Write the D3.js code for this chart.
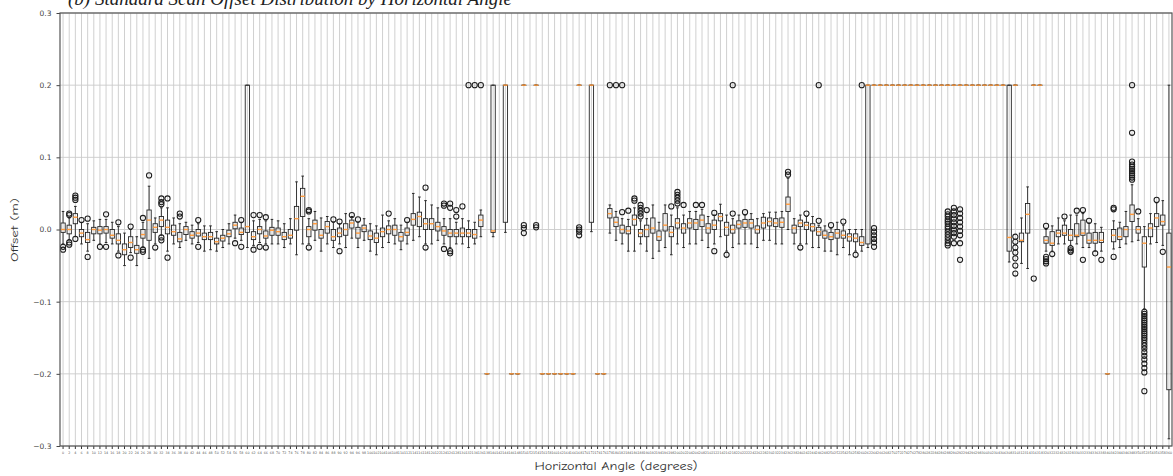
<!DOCTYPE html>
<html>
<head>
<meta charset="utf-8">
<script src="https://cdn.jsdelivr.net/npm/d3@7"></script>
<style>
  body { margin: 0; background: #fff; }
  svg { display: block; }
</style>
</head>
<body>
<svg id="chart" width="1173" height="476"></svg>
<script>
// Horizontal angle categories (degrees)
const angles = d3.range(0, 362, 2);

// Box statistics per angle (null = no observations)
const whiskerLow = [
  -0.02, -0.014, -0.01, -0.02, -0.03, -0.015, -0.02, -0.018, -0.02, -0.03,
  -0.05, -0.032, -0.05, -0.024, -0.04, -0.02, -0.008, -0.03, -0.02, -0.025,
  -0.015, -0.02, -0.018, -0.03, -0.028, -0.03, -0.025, -0.02, -0.012, -0.015,
  -0.025, -0.022, -0.018, -0.02, -0.02, -0.02, -0.025, -0.02, -0.035, -0.02,
  -0.02, -0.015, -0.03, -0.02, -0.025, -0.02, -0.025, -0.012, -0.025, -0.015,
  -0.03, -0.035, -0.025, -0.018, -0.02, -0.028, -0.02, -0.015, -0.01, -0.02,
  -0.02, -0.015, -0.02, -0.025, -0.02, -0.02, -0.025, -0.02, -0.01, -0.2,
  -0.01, null, -0.004, -0.2, -0.2, 0.2, null, 0.2, -0.2, -0.2,
  -0.2, -0.2, -0.2, -0.2, 0.2, null, -0.003, -0.2, -0.2, -0.005,
  -0.015, -0.02, -0.03, -0.03, -0.02, -0.03, -0.04, -0.03, -0.025, -0.035,
  -0.02, -0.025, -0.02, -0.02, -0.015, -0.025, -0.02, -0.01, -0.03, -0.025,
  -0.02, -0.02, -0.02, -0.025, -0.015, -0.015, -0.02, -0.02, 0.0, -0.02,
  -0.02, -0.02, -0.025, -0.025, -0.03, -0.03, -0.035, -0.025, -0.035, -0.03,
  -0.03, -0.025, 0.2, 0.2, 0.2, 0.2, 0.2, 0.2, 0.2, 0.2,
  0.2, 0.2, 0.2, 0.2, 0.2, 0.2, 0.2, 0.2, 0.2, 0.2,
  0.2, 0.2, 0.2, 0.2, -0.045, 0.2, -0.047, -0.054, 0.2, 0.2,
  -0.03, -0.03, -0.02, -0.02, -0.022, -0.02, -0.025, -0.025, -0.03, -0.03,
  -0.2, -0.027, -0.025, -0.02, -0.017, -0.015, -0.11, -0.02, -0.018, -0.022,
  -0.29
];

const q1 = [
  -0.004, -0.006, 0.008, -0.01, -0.018, -0.006, -0.006, -0.005, -0.012, -0.02,
  -0.035, -0.025, -0.033, -0.012, -0.015, -0.004, 0.004, -0.006, -0.008, -0.017,
  -0.007, -0.012, -0.009, -0.014, -0.014, -0.02, -0.016, -0.01, 0.001, -0.007,
  -0.004, -0.014, -0.006, -0.012, -0.008, -0.008, -0.014, -0.012, -0.001, 0.018,
  -0.01, -0.001, -0.012, -0.005, -0.015, -0.01, -0.008, 0.002, -0.012, -0.003,
  -0.014, -0.018, -0.01, -0.006, -0.008, -0.016, -0.008, 0.006, 0.004, 0.0,
  0.0, -0.002, -0.008, -0.01, -0.01, -0.01, -0.01, -0.012, 0.004, -0.2,
  -0.004, null, 0.01, -0.2, -0.2, 0.2, null, 0.2, -0.2, -0.2,
  -0.2, -0.2, -0.2, -0.2, 0.2, null, 0.01, -0.2, -0.2, 0.016,
  0.004, -0.005, -0.006, 0.006, -0.01, -0.01, -0.005, -0.015, -0.002, -0.01,
  0.002, -0.005, 0.002, 0.0, 0.004, -0.005, 0.0, 0.012, -0.008, -0.005,
  0.002, 0.003, 0.002, -0.005, 0.002, 0.005, 0.004, 0.003, 0.025, -0.005,
  0.004, 0.0, -0.002, -0.008, -0.012, -0.014, -0.012, -0.012, -0.016, -0.017,
  -0.022, -0.02, 0.2, 0.2, 0.2, 0.2, 0.2, 0.2, 0.2, 0.2,
  0.2, 0.2, 0.2, 0.2, 0.2, 0.2, 0.2, 0.2, 0.2, 0.2,
  0.2, 0.2, 0.2, 0.2, -0.03, 0.2, -0.017, -0.005, 0.2, 0.2,
  -0.019, -0.022, -0.01, -0.008, -0.015, -0.01, -0.008, -0.019, -0.019, -0.018,
  -0.2, -0.017, -0.014, -0.01, 0.011, -0.005, -0.052, -0.01, 0.004, 0.006,
  -0.222
];

const median = [
  0.0, 0.0, 0.017, -0.005, -0.014, 0.0, -0.001, 0.0, -0.008, -0.015,
  -0.028, -0.018, -0.028, -0.007, 0.013, 0.003, 0.013, 0.003, -0.003, -0.013,
  0.0, -0.008, -0.005, -0.01, -0.01, -0.017, -0.012, -0.006, 0.006, -0.004,
  0.004, -0.01, 0.0, -0.009, -0.001, -0.003, -0.01, -0.008, 0.015, 0.046,
  0.0, 0.008, -0.008, 0.004, -0.01, -0.005, 0.0, 0.009, -0.005, 0.002,
  -0.009, -0.012, -0.003, 0.0, 0.0, -0.01, -0.004, 0.014, 0.018, 0.008,
  0.008, 0.004, -0.002, -0.005, -0.005, -0.005, -0.005, -0.007, 0.013, -0.2,
  -0.002, null, 0.2, -0.2, -0.2, 0.2, null, 0.2, -0.2, -0.2,
  -0.2, -0.2, -0.2, -0.2, 0.2, null, 0.2, -0.2, -0.2, 0.022,
  0.01, 0.0, -0.002, 0.014, -0.005, 0.0, 0.002, -0.01, 0.006, -0.004,
  0.009, 0.002, 0.009, 0.009, 0.013, 0.002, 0.006, 0.018, 0.003, 0.0,
  0.007, 0.009, 0.009, 0.0, 0.009, 0.011, 0.009, 0.01, 0.035, 0.002,
  0.009, 0.006, 0.004, -0.003, -0.008, -0.01, -0.005, -0.008, -0.01, -0.012,
  -0.018, 0.2, 0.2, 0.2, 0.2, 0.2, 0.2, 0.2, 0.2, 0.2,
  0.2, 0.2, 0.2, 0.2, 0.2, 0.2, 0.2, 0.2, 0.2, 0.2,
  0.2, 0.2, 0.2, 0.2, -0.011, 0.2, -0.015, 0.021, 0.2, 0.2,
  -0.015, -0.019, -0.005, -0.005, -0.008, -0.008, -0.005, -0.015, -0.015, -0.015,
  -0.2, -0.008, -0.01, 0.0, 0.021, 0.0, -0.019, 0.002, 0.016, 0.011,
  -0.052
];

const q3 = [
  0.009, 0.006, 0.022, 0.0, -0.004, 0.003, 0.004, 0.004, 0.0, -0.006,
  -0.02, -0.01, -0.022, 0.0, 0.027, 0.008, 0.018, 0.013, 0.006, -0.004,
  0.004, -0.003, 0.0, -0.005, -0.004, -0.012, -0.008, -0.001, 0.01, 0.002,
  0.2, -0.003, 0.004, -0.002, 0.003, 0.002, -0.004, 0.0, 0.032, 0.057,
  0.004, 0.013, 0.0, 0.011, 0.0, 0.002, 0.008, 0.013, 0.003, 0.006,
  -0.002, -0.005, 0.002, 0.005, 0.006, -0.004, 0.002, 0.022, 0.024, 0.015,
  0.015, 0.01, 0.004, 0.0, 0.0, 0.002, 0.0, 0.0, 0.02, -0.2,
  0.2, null, 0.2, -0.2, -0.2, 0.2, null, 0.2, -0.2, -0.2,
  -0.2, -0.2, -0.2, -0.2, 0.2, null, 0.2, -0.2, -0.2, 0.029,
  0.017, 0.006, 0.004, 0.02, 0.0, 0.006, 0.016, -0.002, 0.022, 0.004,
  0.015, 0.008, 0.015, 0.014, 0.02, 0.008, 0.013, 0.022, 0.01, 0.006,
  0.012, 0.014, 0.014, 0.005, 0.017, 0.016, 0.015, 0.016, 0.045, 0.006,
  0.013, 0.01, 0.008, 0.003, -0.002, -0.004, 0.0, -0.002, -0.006, -0.006,
  -0.01, 0.2, 0.2, 0.2, 0.2, 0.2, 0.2, 0.2, 0.2, 0.2,
  0.2, 0.2, 0.2, 0.2, 0.2, 0.2, 0.2, 0.2, 0.2, 0.2,
  0.2, 0.2, 0.2, 0.2, 0.2, 0.2, -0.005, 0.036, 0.2, 0.2,
  -0.01, -0.003, -0.001, 0.006, 0.0, 0.008, 0.013, -0.005, -0.004, -0.004,
  -0.2, 0.0, 0.002, 0.004, 0.034, 0.004, -0.01, 0.008, 0.022, 0.02,
  -0.005
];

const whiskerHigh = [
  0.025, 0.016, 0.032, 0.01, 0.008, 0.012, 0.014, 0.014, 0.01, 0.004,
  -0.005, 0.0, -0.01, 0.01, 0.06, 0.016, 0.03, 0.03, 0.016, 0.008,
  0.01, 0.006, 0.008, 0.005, 0.005, -0.003, 0.0, 0.008, 0.02, 0.01,
  0.2, 0.012, 0.014, 0.012, 0.014, 0.012, 0.008, 0.015, 0.066, 0.074,
  0.015, 0.025, 0.016, 0.018, 0.01, 0.008, 0.022, 0.018, 0.01, 0.015,
  0.008, 0.005, 0.02, 0.012, 0.015, 0.006, 0.01, 0.05, 0.045, 0.04,
  0.034, 0.03, 0.015, 0.015, 0.01, 0.015, 0.012, 0.01, 0.027, -0.2,
  0.2, null, 0.2, -0.2, -0.2, 0.2, null, 0.2, -0.2, -0.2,
  -0.2, -0.2, -0.2, -0.2, 0.2, null, 0.2, -0.2, -0.2, 0.034,
  0.025, 0.015, 0.014, 0.03, 0.012, 0.015, 0.034, 0.01, 0.034, 0.02,
  0.03, 0.02, 0.025, 0.025, 0.028, 0.018, 0.02, 0.035, 0.02, 0.015,
  0.02, 0.02, 0.022, 0.015, 0.022, 0.024, 0.024, 0.025, 0.071, 0.015,
  0.02, 0.018, 0.018, 0.006, 0.005, 0.002, 0.01, 0.006, 0.0, 0.0,
  0.0, 0.2, 0.2, 0.2, 0.2, 0.2, 0.2, 0.2, 0.2, 0.2,
  0.2, 0.2, 0.2, 0.2, 0.2, 0.2, 0.2, 0.2, 0.2, 0.2,
  0.2, 0.2, 0.2, 0.2, 0.2, 0.2, 0.016, 0.059, 0.2, 0.2,
  0.0, 0.005, 0.016, 0.012, 0.02, 0.02, 0.022, 0.009, 0.008, 0.003,
  -0.2, 0.012, 0.01, 0.025, 0.062, 0.015, 0.004, 0.022, 0.037, 0.04,
  0.2
];

// Points beyond the whiskers
const outliers = [
  [-0.024, -0.028], [0.022, 0.02, -0.018, -0.021], [0.047, 0.044, 0.041, -0.013], [0.013], [0.015, -0.038], [], [-0.024], [0.021, -0.024], [], [0.01, -0.036],
  [], [0.004, -0.039], [], [0.016, -0.028, -0.031], [0.075], [-0.025], [0.043, 0.038, 0.035, -0.011, -0.015], [0.043, -0.039], [], [0.018, 0.022],
  [], [], [0.013, -0.024], [], [], [], [], [], [-0.019], [0.013, -0.024],
  [], [0.02, -0.028], [0.02, -0.024], [0.017, -0.025], [], [], [], [], [], [],
  [0.027, 0.025, -0.025], [], [], [], [0.014], [0.011, -0.03], [], [0.02], [0.014], [],
  [], [], [], [0.022], [], [], [0.013], [], [], [0.058, -0.025],
  [], [], [0.036, 0.033, -0.027], [0.036, 0.03, -0.03, -0.033], [0.027, 0.018], [0.032], [0.2], [0.2], [0.2], [],
  [], [], [], [], [], [0.006, 0.002, -0.005], [], [0.006, 0.003], [], [],
  [], [], [], [], [0.003, 0.0, -0.003, -0.008], [], [], [], [], [0.2],
  [0.2], [0.2, 0.024], [0.026], [0.043, 0.04], [0.034, 0.03, 0.026, 0.022, 0.018], [0.027], [], [], [], [0.032],
  [0.052, 0.048, 0.044, 0.04, 0.036], [0.034], [], [0.034], [0.034], [], [0.023, -0.03], [], [-0.035], [0.2, 0.022],
  [], [0.024], [], [], [], [], [], [], [0.08, 0.076], [],
  [-0.025], [0.022], [], [0.2, 0.012], [], [0.006], [], [0.011], [], [-0.035],
  [0.2], [], [0.002, -0.003, -0.008, -0.013, -0.018, -0.024], [], [], [], [], [], [], [],
  [], [], [], [],
  [0.025, 0.021, 0.018, 0.014, 0.011, 0.008, 0.004, 0.001, -0.003, -0.007, -0.011, -0.015, -0.019, -0.022],
  [0.03, 0.025, 0.02, 0.015, 0.01, 0.005, 0.0, -0.005, -0.01, -0.019],
  [0.028, 0.022, 0.016, 0.01, 0.004, -0.002, -0.008, -0.019, -0.042],
  [], [], [],
  [], [], [], [], [], [-0.01, -0.017, -0.025, -0.032, -0.04, -0.05, -0.061], [], [], [-0.068], [],
  [0.005, -0.038, -0.041, -0.044, -0.047], [-0.034], [], [0.018], [-0.026, -0.029, -0.031], [0.026], [0.027, -0.042], [0.012], [-0.033], [-0.042],
  [], [0.03, 0.028, -0.038], [], [],
  [0.2, 0.134, 0.094, 0.09, 0.087, 0.084, 0.081, 0.078, 0.075, 0.072, 0.069],
  [0.025],
  [-0.114, -0.117, -0.12, -0.123, -0.126, -0.129, -0.132, -0.135, -0.138, -0.141, -0.144, -0.147, -0.15, -0.153, -0.157, -0.161, -0.165, -0.17, -0.175, -0.18, -0.186, -0.192, -0.198, -0.224],
  [], [0.041], [-0.031],
  []
];

const yTicks = [-0.3, -0.2, -0.1, 0.0, 0.1, 0.2, 0.3];

const titleText = "(b) Standard Scan Offset Distribution by Horizontal Angle";
const xTitle = "Horizontal Angle (degrees)";
const yTitle = "Offset (m)";

// ---- layout ----
const margin = { left: 60, right: 1172, top: 13, bottom: 446 };
const svg = d3.select("#chart");

const x = d3.scaleBand().domain(angles).range([margin.left, margin.right]).padding(0);
const y = d3.scaleLinear().domain([-0.3, 0.3]).range([margin.bottom, margin.top]);
const cx = a => x(a) + x.bandwidth() / 2;
const boxW = x.bandwidth() * 0.7;
const capW = boxW * 0.6;
const ink = "#262626";

const stats = angles.map((a, i) => ({
  angle: a, lo: whiskerLow[i], q1: q1[i], med: median[i], q3: q3[i], hi: whiskerHigh[i], out: outliers[i] || []
})).filter(d => d.med !== null);

// grid
const grid = svg.append("g");
grid.selectAll("line.vg").data(angles).join("line")
  .attr("x1", d => cx(d)).attr("x2", d => cx(d))
  .attr("y1", margin.top).attr("y2", margin.bottom)
  .attr("stroke", "#cbcbcb").attr("stroke-width", 0.9);
grid.selectAll("line.hg").data(yTicks).join("line")
  .attr("x1", margin.left).attr("x2", margin.right)
  .attr("y1", d => y(d)).attr("y2", d => y(d))
  .attr("stroke", "#cbcbcb").attr("stroke-width", 0.9);

// boxes
const g = svg.append("g");
g.selectAll("rect.box").data(stats).join("rect")
  .attr("x", d => cx(d.angle) - boxW / 2)
  .attr("width", boxW)
  .attr("y", d => y(d.q3))
  .attr("height", d => Math.max(0.01, y(d.q1) - y(d.q3)))
  .attr("fill", "none").attr("stroke", ink).attr("stroke-width", 0.9);

// whiskers
g.selectAll("line.wlo").data(stats).join("line")
  .attr("x1", d => cx(d.angle)).attr("x2", d => cx(d.angle))
  .attr("y1", d => y(d.q1)).attr("y2", d => y(d.lo))
  .attr("stroke", ink).attr("stroke-width", 0.9);
g.selectAll("line.whi").data(stats).join("line")
  .attr("x1", d => cx(d.angle)).attr("x2", d => cx(d.angle))
  .attr("y1", d => y(d.q3)).attr("y2", d => y(d.hi))
  .attr("stroke", ink).attr("stroke-width", 0.9);

// caps
["lo", "hi"].forEach(k => {
  g.selectAll("line.cap" + k).data(stats).join("line")
    .attr("x1", d => cx(d.angle) - capW / 2).attr("x2", d => cx(d.angle) + capW / 2)
    .attr("y1", d => y(d[k])).attr("y2", d => y(d[k]))
    .attr("stroke", ink).attr("stroke-width", 1);
});

// medians
g.selectAll("line.med").data(stats).join("line")
  .attr("x1", d => cx(d.angle) - boxW / 2).attr("x2", d => cx(d.angle) + boxW / 2)
  .attr("y1", d => y(d.med)).attr("y2", d => y(d.med))
  .attr("stroke", "#ff9a3c").attr("stroke-width", 1.4);

// fliers
const fliers = stats.flatMap(d => d.out.map(v => ({ angle: d.angle, v })));
g.selectAll("circle.flier").data(fliers).join("circle")
  .attr("cx", d => cx(d.angle)).attr("cy", d => y(d.v))
  .attr("r", 2.6)
  .attr("fill", "none").attr("stroke", "#1e1e1e").attr("stroke-width", 1.05);

// axes
const yAxis = svg.append("g").attr("transform", `translate(${margin.left},0)`)
  .call(d3.axisLeft(y).tickValues(yTicks).tickFormat(d3.format(".1f")).tickSize(3.5).tickPadding(5));
yAxis.selectAll("text").attr("font-family", "DejaVu Sans, sans-serif").attr("font-size", 7.5).attr("fill", "#444");
yAxis.selectAll("line").attr("stroke", "#444");
yAxis.select(".domain").remove();

const xAxis = svg.append("g").attr("transform", `translate(0,${margin.bottom})`)
  .call(d3.axisBottom(x).tickSize(3).tickPadding(3));
xAxis.selectAll("text").attr("font-family", "DejaVu Sans, sans-serif").attr("font-size", 3.3).attr("fill", "#555");
xAxis.selectAll("line").attr("stroke", "#333");
xAxis.select(".domain").remove();

// frame
svg.append("rect")
  .attr("x", margin.left).attr("y", margin.top)
  .attr("width", margin.right - margin.left).attr("height", margin.bottom - margin.top)
  .attr("fill", "none").attr("stroke", "#555").attr("stroke-width", 1.2);

// titles
svg.append("text")
  .attr("x", 616).attr("y", 470)
  .attr("text-anchor", "middle")
  .attr("font-family", "'Comic Sans MS', 'Comic Neue', Lato, sans-serif")
  .attr("font-size", 11.5).attr("fill", "#333")
  .attr("textLength", 163).attr("lengthAdjust", "spacingAndGlyphs")
  .text(xTitle);

svg.append("text")
  .attr("transform", "translate(18,230) rotate(-90)")
  .attr("text-anchor", "middle")
  .attr("font-family", "'Comic Sans MS', 'Comic Neue', Lato, sans-serif")
  .attr("font-size", 10.5).attr("fill", "#333")
  .attr("textLength", 64).attr("lengthAdjust", "spacingAndGlyphs")
  .text(yTitle);

svg.append("text")
  .attr("x", 68).attr("y", 5)
  .attr("font-family", "'Liberation Serif', serif")
  .attr("font-style", "italic")
  .attr("font-size", 19).attr("fill", "#222")
  .text(titleText);
</script>
</body>
</html>
